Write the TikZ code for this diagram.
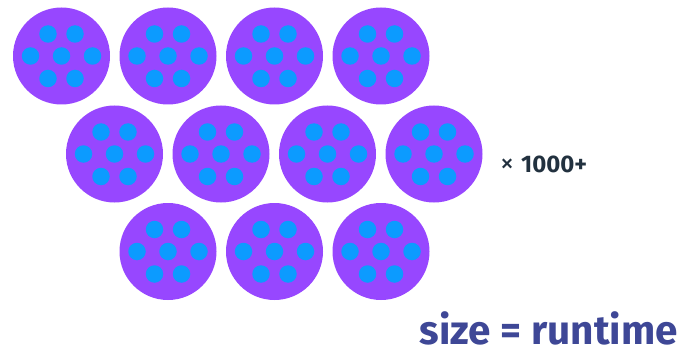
\documentclass[tikz,border=0pt]{standalone}
\usepackage{fontspec}
\setmainfont{Fira Sans}
\definecolor{outerpurple}{HTML}{9747FF}
\definecolor{innerblue}{HTML}{0C9BFF}
\definecolor{labeldark}{HTML}{22313F}
\definecolor{titleblue}{HTML}{3E4796}
\tikzset{
  cell/.style={circle, fill=outerpurple, draw=none, minimum size=97pt, inner sep=0pt},
  dot/.style={circle, fill=innerblue, draw=none, minimum size=17.5pt, inner sep=0pt},
}
\begin{document}
\begin{tikzpicture}[x=1pt,y=-1pt]
\useasboundingbox (0,0) rectangle (685,350);
\foreach \n/\cx/\cy in {a1/61.5/56, a2/168/56, a3/274.5/56, a4/381/56,
                        b1/114.5/154, b2/221/154, b3/327.5/154, b4/434/154,
                        c1/168/251.5, c2/274.5/251.5, c3/381/251.5}{
  \node[cell] (\n) at (\cx,\cy) {};
  \node[dot] (\n-t1) at ([xshift=-13.5pt,yshift=22pt]\n.center) {};
  \node[dot] (\n-t2) at ([xshift=13.5pt,yshift=22pt]\n.center) {};
  \node[dot] (\n-m1) at ([xshift=-31pt]\n.center) {};
  \node[dot] (\n-m2) at (\n.center) {};
  \node[dot] (\n-m3) at ([xshift=31pt]\n.center) {};
  \node[dot] (\n-b1) at ([xshift=-13.5pt,yshift=-22.5pt]\n.center) {};
  \node[dot] (\n-b2) at ([xshift=13.5pt,yshift=-22.5pt]\n.center) {};
}
\node[anchor=base west, inner sep=0pt, text=labeldark, font=\fontsize{28}{30}\selectfont] (times) at (500,172) {×};
\node[anchor=base west, inner sep=0pt, text=labeldark, font=\bfseries\fontsize{24}{27}\selectfont] (count) at (521,172) {1000+};
\node[anchor=base east, inner sep=0pt, text depth=0pt, text=titleblue, font=\bfseries\fontsize{40.5}{45}\selectfont] (title) at (678,344) {size = runtime};
\end{tikzpicture}
\end{document}
